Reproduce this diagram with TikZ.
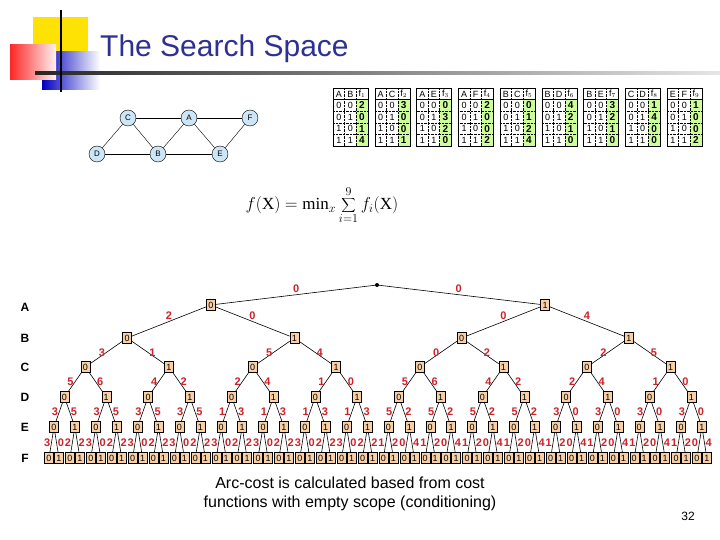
\documentclass[tikz,border=0pt]{standalone}
\usepackage{fontspec}
\setmainfont{Liberation Sans}
\newfontfamily\serifff{Liberation Serif}
\usetikzlibrary{calc}
\definecolor{titleblue}{HTML}{2E3192}
\definecolor{boxfill}{HTML}{F9CFA5}
\definecolor{labred}{HTML}{CC2229}
\definecolor{gnode}{HTML}{CDE6F7}
\definecolor{tgreen}{HTML}{CCFF99}
\tikzset{
  x=1pt,y=-1pt,
  tbox/.style={draw=black,fill=boxfill,minimum width=9pt,minimum height=11pt,inner sep=0pt,font=\fontsize{9}{9}\selectfont},
  elab/.style={text=labred,font=\fontsize{11}{11}\selectfont\bfseries,inner sep=0.5pt},
  gn/.style={circle,draw=black,fill=gnode,minimum size=16pt,inner sep=0pt,font=\fontsize{8}{8}\selectfont},
  lvl/.style={font=\fontsize{12}{12}\selectfont\bfseries},
  tedge/.style={black,line width=0.6pt}
}
\pgfmathdeclarefunction{leafx}{1}{\pgfmathparse{49+20.9*floor(#1/2)+10*mod(#1,2)}}
\begin{document}
\begin{tikzpicture}
\useasboundingbox[fill=white] (0,0) rectangle (720,540);
% decoration
\fill[yellow!85!orange] (33,17) rectangle (88,55);
\shade[left color=blue!75!black, right color=white] (42,52) rectangle (100,90);
\shade[left color=red!85, right color=red!5] (10,45) rectangle (56,80);
\shade[left color=black!85, right color=black!10] (35,71.5) rectangle (720,74.5);
\draw[line width=2.5pt] (61,10) -- (61,92);
\node[anchor=base west,text=titleblue,font=\fontsize{30}{30}\selectfont,inner sep=0] (title) at (100,57) {The Search Space};
% constraint graph
\node[gn] (gC) at (128,118) {C};
\node[gn] (gA) at (189,118) {A};
\node[gn] (gF) at (250,118) {F};
\node[gn] (gD) at (97,154) {D};
\node[gn] (gB) at (158,154) {B};
\node[gn] (gE) at (220,154) {E};
\foreach \a/\b in {gC/gA,gA/gF,gC/gD,gC/gB,gA/gB,gA/gE,gF/gE,gD/gB,gB/gE}
  \draw (\a) -- (\b);
% tables
\foreach \va/\vb/\idx/\r/\s/\t/\u [count=\i from 0] in
 {A/B/1/2/0/1/4, A/C/2/3/0/0/1, A/E/3/0/3/2/0, A/F/4/2/0/0/2, B/C/5/0/1/2/4,
  B/D/6/4/2/1/0, B/E/7/3/2/1/0, C/D/8/1/4/0/0, E/F/9/1/0/0/2}{
  \pgfmathsetmacro\xo{333+41.75*\i}
  \fill[tgreen] (\xo+23,99.6) rectangle (\xo+35,146);
  \draw[densely dotted] (\xo+11.5,88) -- (\xo+11.5,146) (\xo+23,88) -- (\xo+23,146);
  \foreach \rr in {1,2,3} \draw[densely dotted] (\xo,88+11.6*\rr+11.6) -- (\xo+35,88+11.6*\rr+11.6);
  \draw (\xo,99.6) -- (\xo+35,99.6);
  \draw (\xo,88) rectangle (\xo+35,146);
  \node[font=\fontsize{9}{9}\selectfont,inner sep=0] (ha\i) at (\xo+5.75,94) {\va};
  \node[font=\fontsize{9}{9}\selectfont,inner sep=0] (hb\i) at (\xo+17.25,94) {\vb};
  \node[font=\fontsize{9}{9}\selectfont,inner sep=0] (hf\i) at (\xo+29,94) {f$_{\idx}$};
  \foreach \aa/\bb/\vv [count=\rr from 1] in {0/0/\r,0/1/\s,1/0/\t,1/1/\u}{
    \node[font=\fontsize{9}{9}\selectfont,inner sep=0] (ta\i\rr) at (\xo+5.75,93.8+11.6*\rr) {\aa};
    \node[font=\fontsize{9}{9}\selectfont,inner sep=0] (tb\i\rr) at (\xo+17.25,93.8+11.6*\rr) {\bb};
    \node[font=\fontsize{10}{10}\selectfont\bfseries,inner sep=0] (tv\i\rr) at (\xo+29,93.8+11.6*\rr) {\vv};
  }
}
% formula
\node[font=\fontsize{17}{17}\selectfont] (formula) at (322,205) {$\displaystyle f(\hbox{\serifff X}) = \hbox{\serifff min}_{x} \sum_{i=1}^{9} f_i(\hbox{\serifff X})$};
% level labels
\foreach \L/\yy in {A/307,B/338,C/367,D/397,E/427,F/458}
  \node[lvl] (lv\L) at (25,\yy) {\L};
% tree
\coordinate (n-0-0) at (377,285);
\fill (n-0-0) circle (2pt);
\def\levy{{285,305,338,367,397,427,458}}
\foreach \d/\labs in {
 1/{0,0},
 2/{2,0,0,4},
 3/{3,1,5,4,0,2,2,5},
 4/{5,6,4,2,2,4,1,0,5,6,4,2,2,4,1,0},
 5/{3,5,3,5,3,5,3,5,1,3,1,3,1,3,1,3,5,2,5,2,5,2,5,2,3,0,3,0,3,0,3,0},
 6/{3,0,2,2,3,0,2,2,3,0,2,2,3,0,2,2,3,0,2,2,3,0,2,2,3,0,2,2,3,0,2,2,1,2,0,4,1,2,0,4,1,2,0,4,1,2,0,4,1,2,0,4,1,2,0,4,1,2,0,4,1,2,0,4}}{
  \foreach \lab [count=\k from 0] in \labs {
    \pgfmathtruncatemacro\span{2^(6-\d)}
    \pgfmathtruncatemacro\lo{\k*\span}
    \pgfmathtruncatemacro\hi{(\k+1)*\span-1}
    \pgfmathsetmacro\xx{(leafx(\lo)+leafx(\hi))/2}
    \pgfmathsetmacro\yy{\levy[\d]}
    \pgfmathtruncatemacro\val{mod(\k,2)}
    \pgfmathtruncatemacro\pd{\d-1}
    \pgfmathtruncatemacro\pk{floor(\k/2)}
    \node[tbox] (n-\d-\k) at (\xx,\yy) {\val};
    \ifnum\d<3
      \draw[tedge] (n-\pd-\pk) -- node[elab,above=1pt] {\lab} (n-\d-\k);
    \else
      \ifnum\val=0
        \draw[tedge] (n-\pd-\pk) -- node[elab,left=0.5pt] {\lab} (n-\d-\k);
      \else
        \draw[tedge] (n-\pd-\pk) -- node[elab,right=0.5pt] {\lab} (n-\d-\k);
      \fi
    \fi
  }
}
% caption
\node[font=\fontsize{16}{19}\selectfont,align=center] (cap) at (350,494) {Arc-cost is calculated based from cost\\functions with empty scope (conditioning)};
\node[font=\fontsize{12}{12}\selectfont] (pg) at (688,516) {32};
\end{tikzpicture}
\end{document}
